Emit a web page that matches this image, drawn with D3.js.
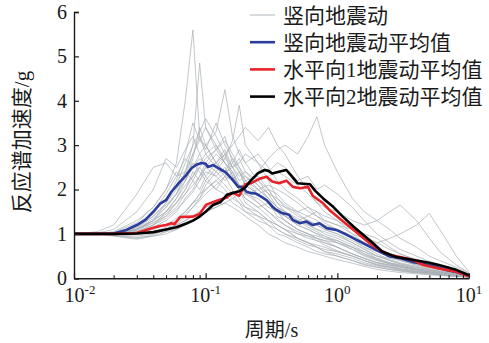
<!DOCTYPE html>
<html>
<head>
<meta charset="utf-8">
<script src="https://cdn.jsdelivr.net/npm/d3@7"></script>
<style>
  body { margin: 0; background: #fff; }
  svg { display: block; }
  text { font-family: "Liberation Serif", "Noto Sans CJK SC", serif; fill: #1a1a1a; }
</style>
</head>
<body>
<div id="chart"></div>
<script>
// periods (s) shared by the vertical ground motion records
const grayPeriods = [0.01,0.015,0.02,0.03,0.04,0.05,0.06,0.07,0.08,0.09,0.1,0.12,0.14,0.16,0.18,0.2,0.25,0.3,0.35,0.4,0.5,0.6,0.7,0.8,1.0,1.3,1.6,2,2.5,3,4,5,6,8,10];

// 竖向地震动 records (g)
const grayRecords = [
  [1,1,1.05,1.3,1.6,2.0,2.6,4.0,5.6,3.2,2.8,2.5,2.8,2.3,2.0,1.8,1.6,1.4,1.2,1.1,0.9,0.8,0.75,0.7,0.6,0.5,0.4,0.3,0.25,0.2,0.15,0.12,0.1,0.07,0.05],
  [1,1,1.02,1.15,1.4,1.7,2.0,2.4,3.0,4.85,3.4,2.9,3.2,2.6,2.4,2.1,1.9,1.7,1.4,1.3,1.1,1.0,0.9,0.85,0.7,0.55,0.45,0.35,0.3,0.25,0.18,0.14,0.11,0.08,0.05],
  [1,1,1.0,1.1,1.3,1.6,1.9,2.4,2.8,3.1,3.0,3.3,4.25,3.2,2.8,2.6,2.2,1.9,1.6,1.5,1.3,1.2,1.1,1.0,0.9,0.75,0.6,0.45,0.35,0.3,0.22,0.17,0.13,0.09,0.06],
  [1,1,1.0,1.05,1.2,1.4,1.7,2.0,2.3,2.6,2.8,3.0,2.7,3.1,3.9,3.0,2.6,2.2,1.8,1.6,1.4,1.3,1.2,1.1,1.0,0.8,0.65,0.5,0.4,0.32,0.25,0.2,0.15,0.1,0.06],
  [1,1,1.0,1.0,1.05,1.1,1.2,1.3,1.4,1.5,1.6,1.7,1.8,1.9,2.0,2.1,2.4,2.7,2.9,3.0,2.8,3.2,3.64,3.0,2.4,1.8,1.5,1.3,1.1,0.9,0.7,0.5,0.4,0.25,0.12],
  [1,1,1.02,1.1,1.3,1.5,1.7,1.9,2.1,2.3,2.5,2.6,2.8,3.0,3.2,3.4,3.1,3.4,3.0,2.8,2.3,2.0,1.7,1.5,1.3,1.0,0.8,0.6,0.5,0.4,0.3,0.22,0.17,0.11,0.06],
  [1,1,1.0,1.0,1.05,1.1,1.2,1.3,1.4,1.5,1.6,1.7,1.8,1.9,2.0,2.1,2.2,2.3,2.4,2.3,2.1,1.9,1.7,1.6,1.5,1.3,1.2,1.3,1.5,1.65,1.3,0.9,0.6,0.3,0.12],
  [1,1,1.0,1.0,1.02,1.05,1.1,1.2,1.3,1.4,1.5,1.6,1.7,1.8,1.9,1.9,2.0,2.1,2.0,1.9,1.7,1.5,1.4,1.3,1.2,1.0,0.9,0.8,0.9,1.0,1.2,1.46,1.1,0.5,0.15],
  [1,1.05,1.2,1.9,2.5,2.6,2.3,2.4,2.2,2.5,2.3,2.0,1.9,1.7,1.6,1.5,1.3,1.2,1.0,0.95,0.8,0.7,0.6,0.55,0.5,0.4,0.3,0.25,0.2,0.17,0.13,0.1,0.08,0.05,0.03],
  [1,1.02,1.1,1.5,2.0,2.7,2.5,2.9,3.2,2.8,3.0,2.6,2.4,2.2,2.0,1.7,1.5,1.3,1.2,1.1,0.9,0.8,0.7,0.6,0.5,0.4,0.32,0.25,0.2,0.16,0.12,0.1,0.08,0.05,0.03],
  [1,1,1.0,1.1,1.3,1.7,2.2,2.8,3.5,3.1,3.4,3.0,2.6,2.4,2.1,2.0,1.7,1.5,1.3,1.2,1.0,0.9,0.85,0.8,0.7,0.55,0.45,0.35,0.28,0.22,0.16,0.12,0.1,0.07,0.04],
  [1,1,1.0,1.05,1.2,1.5,1.8,2.2,2.7,3.4,3.0,2.6,2.9,2.5,2.2,2.3,2.0,1.8,1.6,1.4,1.2,1.1,1.0,0.9,0.85,0.7,0.55,0.45,0.35,0.3,0.22,0.17,0.13,0.09,0.05],
  [1,1,0.98,0.95,1.0,1.1,1.3,1.5,1.7,1.9,2.0,2.2,2.0,1.8,1.7,1.6,1.5,1.3,1.1,1.0,0.9,0.8,0.7,0.6,0.55,0.45,0.35,0.28,0.22,0.18,0.13,0.1,0.08,0.05,0.03],
  [1,1,0.95,0.88,0.95,1.05,1.2,1.4,1.6,1.8,2.1,2.4,2.7,2.5,2.3,2.4,2.2,2.0,1.9,1.7,1.5,1.4,1.3,1.2,1.1,0.9,0.7,0.55,0.42,0.35,0.27,0.2,0.15,0.1,0.06],
  [1,1,1.02,1.15,1.45,1.8,2.1,2.6,3.0,3.3,3.6,3.2,2.8,2.5,2.7,2.4,2.1,1.8,1.5,1.4,1.2,1.1,1.0,0.95,0.85,0.7,0.55,0.42,0.33,0.27,0.2,0.15,0.12,0.08,0.05],
  [1,1,1.0,1.05,1.15,1.3,1.5,1.8,2.0,2.3,2.6,2.9,3.1,2.8,2.5,2.2,2.3,2.0,1.7,1.6,1.5,1.6,1.4,1.25,1.1,0.95,0.8,0.65,0.55,0.45,0.35,0.28,0.22,0.14,0.07],
  [1,1,1.03,1.25,1.6,2.0,2.4,2.2,2.6,2.4,2.2,2.0,2.3,2.0,1.8,1.6,1.4,1.2,1.1,1.0,0.85,0.75,0.7,0.65,0.6,0.5,0.4,0.3,0.25,0.2,0.15,0.12,0.1,0.06,0.04],
  [1,1,1.0,1.0,1.05,1.15,1.3,1.5,1.7,1.9,2.2,2.5,2.3,2.6,2.9,2.6,2.8,2.5,2.2,2.0,1.8,1.6,1.5,1.4,1.3,1.1,0.95,0.8,0.65,0.55,0.42,0.33,0.26,0.17,0.09],
  [1,1,1.01,1.2,1.5,1.9,2.3,2.7,2.5,2.8,2.5,2.3,2.1,1.9,1.7,1.5,1.4,1.3,1.2,1.1,1.0,0.95,0.9,0.85,0.8,0.7,0.6,0.5,0.45,0.4,0.3,0.25,0.2,0.12,0.06],
  [1,1,1.0,1.08,1.25,1.45,1.7,2.0,2.4,2.2,2.5,2.8,2.6,2.4,2.0,1.8,1.6,1.7,1.5,1.3,1.1,1.0,0.95,0.9,0.8,0.65,0.5,0.4,0.32,0.26,0.2,0.15,0.12,0.08,0.04],
  [1,1,1.0,1.02,1.1,1.2,1.35,1.5,1.7,1.8,2.0,2.2,2.4,2.5,2.6,2.8,2.6,2.4,2.6,2.5,2.2,2.3,2.0,2.1,1.9,1.6,1.3,1.0,0.8,0.65,0.5,0.38,0.3,0.2,0.1],
  [1,1,1.0,1.1,1.3,1.5,1.8,2.1,2.3,2.5,2.7,2.9,2.6,2.3,2.1,1.9,1.8,1.6,1.5,1.4,1.3,1.4,1.5,1.3,1.2,1.1,1.0,0.9,0.7,0.55,0.4,0.3,0.22,0.14,0.07],
  [1,1,0.97,0.92,0.95,1.0,1.1,1.2,1.3,1.4,1.5,1.6,1.7,1.6,1.5,1.4,1.2,1.0,0.9,0.8,0.7,0.6,0.55,0.5,0.42,0.34,0.27,0.2,0.16,0.13,0.1,0.08,0.06,0.04,0.02],
  [1,1,1.0,1.1,1.35,1.6,1.9,2.3,2.8,3.2,2.9,3.5,3.0,2.7,2.4,2.2,1.9,1.7,1.5,1.3,1.1,1.0,0.9,0.8,0.7,0.55,0.45,0.36,0.3,0.25,0.18,0.14,0.11,0.07,0.04],
  [1,1,1.0,1.05,1.2,1.35,1.55,1.75,1.95,2.2,2.4,2.3,2.5,2.2,2.4,2.1,1.9,2.0,1.7,1.5,1.3,1.15,1.05,0.95,0.8,0.65,0.52,0.42,0.33,0.28,0.2,0.16,0.12,0.08,0.04],
  [1,1,1.0,1.12,1.4,1.65,1.9,2.2,2.5,2.7,2.6,2.4,2.2,2.4,2.1,1.9,1.7,1.5,1.35,1.2,1.05,0.95,0.85,0.75,0.62,0.5,0.4,0.32,0.26,0.21,0.15,0.12,0.09,0.06,0.03],
  [1,1,0.96,0.9,0.98,1.1,1.25,1.45,1.6,1.75,1.9,2.1,2.3,2.2,2.0,2.2,2.0,1.8,1.6,1.5,1.35,1.2,1.1,1.05,0.95,0.8,0.66,0.5,0.4,0.33,0.25,0.19,0.15,0.1,0.05],
  [1,1,1.01,1.1,1.25,1.4,1.6,1.9,2.2,2.0,2.3,2.6,2.4,2.7,2.5,2.3,2.1,1.9,1.8,1.65,1.45,1.3,1.2,1.1,1.0,0.85,0.7,0.6,0.5,0.42,0.32,0.25,0.19,0.12,0.06]
];

// 竖向地震动平均值
const vMeanT = [0.01,0.015,0.02,0.025,0.03,0.035,0.04,0.045,0.05,0.055,0.064,0.07,0.078,0.085,0.093,0.1,0.104,0.114,0.125,0.132,0.14,0.157,0.177,0.19,0.204,0.22,0.24,0.26,0.29,0.32,0.345,0.38,0.43,0.46,0.52,0.58,0.65,0.73,0.83,0.98,1.18,1.33,1.67,2.1,2.5,3.0,3.7,5.0,6.7,8.0,10];
const vMeanV = [1.0,1.0,1.01,1.09,1.2,1.32,1.5,1.68,1.76,1.95,2.18,2.3,2.48,2.56,2.6,2.58,2.51,2.55,2.48,2.44,2.4,2.25,2.06,2.06,1.95,1.92,1.91,1.85,1.76,1.62,1.54,1.47,1.43,1.31,1.24,1.28,1.2,1.24,1.13,1.09,0.98,0.9,0.75,0.6,0.49,0.45,0.37,0.3,0.19,0.14,0.06];

// 水平向1地震动平均值
const h1MeanT = [0.01,0.02,0.03,0.034,0.04,0.045,0.05,0.055,0.058,0.064,0.08,0.09,0.101,0.12,0.145,0.16,0.18,0.2,0.22,0.26,0.29,0.32,0.36,0.41,0.46,0.52,0.6,0.65,0.78,0.87,1.04,1.24,1.47,1.76,2.1,2.5,3.0,3.7,4.5,5.9,8,10];
const h1MeanV = [1.0,1.0,1.02,1.07,1.14,1.18,1.2,1.24,1.22,1.38,1.39,1.45,1.66,1.74,1.82,1.93,1.86,2.12,2.14,2.25,2.29,2.18,2.14,2.2,2.06,2.03,2.06,1.86,1.69,1.54,1.35,1.16,0.98,0.79,0.64,0.53,0.48,0.42,0.3,0.22,0.15,0.04];

// 水平向2地震动平均值
const h2MeanT = [0.01,0.02,0.03,0.04,0.05,0.06,0.072,0.08,0.09,0.1,0.114,0.13,0.145,0.16,0.18,0.2,0.22,0.25,0.28,0.3,0.32,0.36,0.41,0.45,0.5,0.55,0.62,0.68,0.78,0.93,1.1,1.33,1.57,1.87,2.2,2.8,3.2,4.0,5.0,5.9,8,10];
const h2MeanV = [1.0,1.0,1.01,1.04,1.1,1.15,1.24,1.3,1.39,1.5,1.65,1.72,1.88,1.92,1.96,2.05,2.2,2.37,2.44,2.42,2.36,2.4,2.44,2.3,2.14,2.13,2.12,1.97,1.8,1.61,1.39,1.16,0.98,0.79,0.6,0.48,0.45,0.4,0.35,0.3,0.19,0.07];

const legendLabels = ['竖向地震动', '竖向地震动平均值', '水平向1地震动平均值', '水平向2地震动平均值'];
const yTicks = [0, 1, 2, 3, 4, 5, 6];
const xMajor = [0.01, 0.1, 1, 10];
const xExp = ['-2', '-1', '0', '1'];

const W = 489, H = 343;
const grayColor = '#a7afb4';
const meanColors = ['#2a3c9c', '#e8232a', '#000000'];

const svg = d3.select('#chart').append('svg')
  .attr('width', W)
  .attr('height', H);

const x = d3.scaleLog().domain([0.01, 10]).range([74, 469]);
const y = d3.scaleLinear().domain([0, 6]).range([278.3, 12]);

const line = d3.line()
  .x(d => x(d[0]))
  .y(d => y(d[1]));

// gray records
svg.append('g')
  .selectAll('path')
  .data(grayRecords)
  .enter().append('path')
    .attr('fill', 'none')
    .attr('stroke', grayColor)
    .attr('stroke-width', 0.7)
    .attr('d', d => line(d3.zip(grayPeriods, d)));

// mean curves
const means = [
  d3.zip(vMeanT, vMeanV),
  d3.zip(h1MeanT, h1MeanV),
  d3.zip(h2MeanT, h2MeanV)
];
svg.append('g')
  .selectAll('path')
  .data(means)
  .enter().append('path')
    .attr('fill', 'none')
    .attr('stroke', (d, i) => meanColors[i])
    .attr('stroke-width', 2.6)
    .attr('stroke-linejoin', 'round')
    .attr('d', line);

// y axis
const gy = svg.append('g')
  .attr('transform', 'translate(' + x.range()[0] + ',0)')
  .call(d3.axisLeft(y).tickValues(yTicks).tickSize(-5).tickPadding(7).tickFormat(d3.format('d')));
gy.select('.domain').attr('stroke', '#1a1a1a').attr('stroke-width', 1.4);
gy.selectAll('.tick line').attr('stroke', '#1a1a1a').attr('stroke-width', 1.2);
gy.selectAll('.tick text').style('font-size', '20px').attr('fill', '#1a1a1a');

// x axis: minor ticks then major ticks
const xMinor = [];
xMajor.slice(0, -1).forEach(m => { for (let k = 2; k <= 9; k++) xMinor.push(m * k); });

const gxMinor = svg.append('g')
  .attr('transform', 'translate(0,' + y(0) + ')')
  .call(d3.axisBottom(x).tickValues(xMinor).tickSize(-3).tickFormat(''));
gxMinor.select('.domain').remove();
gxMinor.selectAll('.tick line').attr('stroke', '#1a1a1a').attr('stroke-width', 1.1);

const gx = svg.append('g')
  .attr('transform', 'translate(0,' + y(0) + ')')
  .call(d3.axisBottom(x).tickValues(xMajor).tickSize(-5).tickSizeOuter(0).tickFormat(''));
gx.select('.domain').attr('stroke', '#1a1a1a').attr('stroke-width', 1.4);
gx.selectAll('.tick line').attr('stroke', '#1a1a1a').attr('stroke-width', 1.2);

// x tick labels 10^n
const xl = svg.append('g').selectAll('text')
  .data(xMajor)
  .enter().append('text')
    .attr('x', (d, i) => x(d) + (i === 0 ? 6 : 0))
    .attr('y', 302)
    .attr('text-anchor', 'middle')
    .style('font-size', '20px');
xl.append('tspan').text('10');
xl.append('tspan')
  .attr('dy', -8)
  .style('font-size', '13px')
  .text((d, i) => xExp[i]);

// axis titles
svg.append('text')
  .attr('x', (x.range()[0] + x.range()[1]) / 2)
  .attr('y', 337)
  .attr('text-anchor', 'middle')
  .style('font-size', '20px')
  .text('周期/s');

svg.append('text')
  .attr('transform', 'translate(29,' + 142 + ') rotate(-90)')
  .attr('text-anchor', 'middle')
  .style('font-size', '21px')
  .text('反应谱加速度/g');

// legend
const lg = svg.append('g').attr('transform', 'translate(250,15)');
const rows = lg.selectAll('g')
  .data(legendLabels)
  .enter().append('g')
    .attr('transform', (d, i) => 'translate(0,' + i * 27.2 + ')');
rows.append('line')
  .attr('x1', 0).attr('x2', 25)
  .attr('stroke', (d, i) => i === 0 ? grayColor : meanColors[i - 1])
  .attr('stroke-width', (d, i) => i === 0 ? 0.9 : 2.6);
rows.append('text')
  .attr('x', 33)
  .attr('dy', '0.36em')
  .style('font-size', '21px')
  .text(d => d);
</script>
</body>
</html>
